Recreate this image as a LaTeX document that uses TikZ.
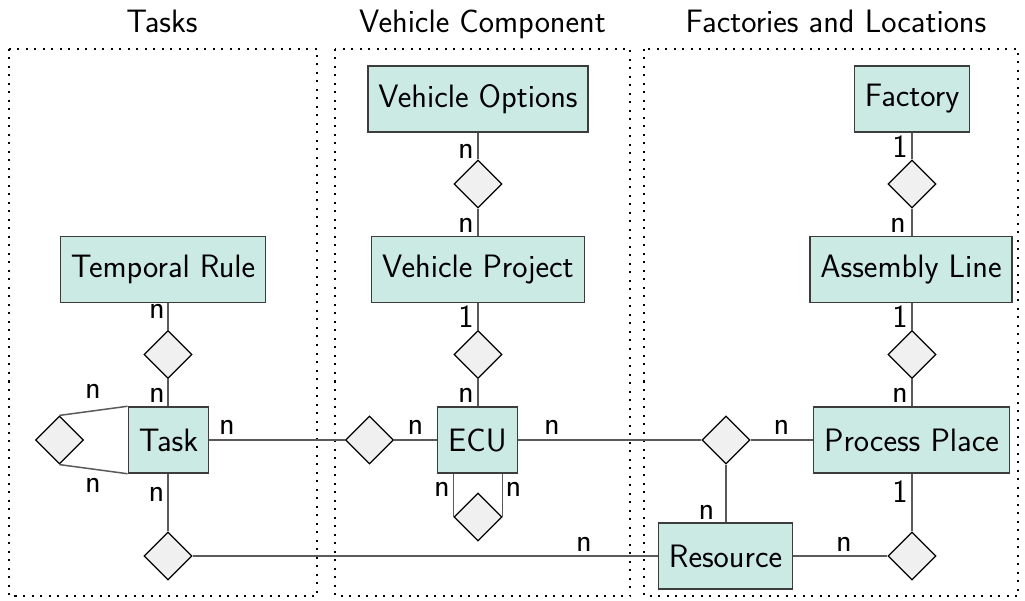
\documentclass[tikz,border=0pt]{standalone}
\usetikzlibrary{shapes.geometric}
\definecolor{entfill}{HTML}{CCEAE4}
\definecolor{entline}{HTML}{3C3C3C}
\definecolor{relfill}{HTML}{F0F0F0}
\definecolor{linkcol}{HTML}{5A5A5A}
\newcommand{\erfont}{\sffamily\fontsize{32.4}{38}\selectfont}
\tikzset{
  entity/.style={draw=entline, fill=entfill, line width=1.5pt, rectangle,
    minimum height=66pt, inner xsep=10.5pt, inner ysep=0pt, font=\erfont},
  relation/.style={draw=black, fill=relfill, line width=1.2pt, diamond,
    aspect=1, inner sep=0pt, minimum width=48pt, minimum height=48pt},
  link/.style={draw=linkcol, line width=1.5pt},
  card/.style={inner sep=0pt, font=\erfont},
  grouptitle/.style={inner sep=0pt, anchor=base, font=\erfont},
  groupframe/.style={draw=black, line width=2pt, dash pattern=on 2pt off 6.5pt}
}
\begin{document}
\begin{tikzpicture}[x=1pt, y=-1pt]
\useasboundingbox (0,0) rectangle (1025,601);

% group frames and their titles
\draw[groupframe] (9,49) rectangle (317,596);
\draw[groupframe] (335,49) rectangle (630,596);
\draw[groupframe] (644,49) rectangle (1018,596);
\node[grouptitle] (tTasks) at (162,33) {Tasks};
\node[grouptitle] (tVeh) at (482.5,33) {Vehicle Component};
\node[grouptitle] (tFac) at (836,33) {Factories and Locations};

% entities
\node[entity] (VO) at (478,99) {Vehicle Options};
\node[entity] (VP) at (478,269.5) {Vehicle Project};
\node[entity] (TR) at (163,269.5) {Temporal Rule};
\node[entity] (Task) at (168.5,440) {Task};
\node[entity] (ECU) at (477.5,440) {ECU};
\node[entity] (Fac) at (912,99) {Factory};
\node[entity] (AL) at (911,269.5) {Assembly Line};
\node[entity] (PP) at (911.5,440) {Process Place};
\node[entity] (Res) at (725.5,556) {Resource};

% relationships
\node[relation] (rVO) at (478,184) {};
\node[relation] (rVP) at (478,354.5) {};
\node[relation] (rTR) at (168,354.5) {};
\node[relation] (rTT) at (59.5,440) {};
\node[relation] (rTE) at (369.5,440) {};
\node[relation] (rEE) at (478,517) {};
\node[relation] (rEP) at (726,440) {};
\node[relation] (rTRes) at (168,556) {};
\node[relation] (rFA) at (912,184) {};
\node[relation] (rAP) at (912,354.5) {};
\node[relation] (rRP) at (912,556) {};

% connectors
\draw[link] (VO.south -| rVO) -- (rVO.north);
\draw[link] (rVO.south) -- (VP.north -| rVO);
\draw[link] (VP.south -| rVP) -- (rVP.north);
\draw[link] (rVP.south) -- (ECU.north -| rVP);
\draw[link] (TR.south -| rTR) -- (rTR.north);
\draw[link] (rTR.south) -- (Task.north -| rTR);
\draw[link] (Task.north west) -- (rTT.north);
\draw[link] (Task.south west) -- (rTT.south);
\draw[link] (Task.east) -- (rTE.west);
\draw[link] (rTE.east) -- (ECU.west);
\draw[link] (ECU.south -| rEE.west) -- (rEE.west);
\draw[link] (ECU.south -| rEE.east) -- (rEE.east);
\draw[link] (ECU.east) -- (rEP.west);
\draw[link] (rEP.east) -- (PP.west);
\draw[link] (rEP.south) -- (Res.north -| rEP);
\draw[link] (Task.south -| rTRes) -- (rTRes.north);
\draw[link] (rTRes.east) -- (Res.west);
\draw[link] (Res.east) -- (rRP.west);
\draw[link] (PP.south -| rRP) -- (rRP.north);
\draw[link] (Fac.south -| rFA) -- (rFA.north);
\draw[link] (rFA.south) -- (AL.north -| rFA);
\draw[link] (AL.south -| rAP) -- (rAP.north);
\draw[link] (rAP.south) -- (PP.north -| rAP);

% cardinalities
\node[card] (cVOa) at (466,151) {n};
\node[card] (cVOb) at (466,225.5) {n};
\node[card] (cVPa) at (466,317) {1};
\node[card] (cVPb) at (466,395) {n};
\node[card] (cTRa) at (157,311.5) {n};
\node[card] (cTRb) at (157,395) {n};
\node[card] (cTTa) at (93,391.5) {n};
\node[card] (cTTb) at (93,485) {n};
\node[card] (cTE) at (227,427.5) {n};
\node[card] (cET) at (415.5,427.5) {n};
\node[card] (cEP) at (552,427.5) {n};
\node[card] (cEEa) at (442,489) {n};
\node[card] (cEEb) at (513.5,489) {n};
\node[card] (cPE) at (781.5,427.5) {n};
\node[card] (cRE) at (706.5,512) {n};
\node[card] (cTRs) at (156.5,494) {n};
\node[card] (cRT) at (584,544.5) {n};
\node[card] (cRP) at (844,544.5) {n};
\node[card] (cPR) at (900,492) {1};
\node[card] (cFA) at (900,147) {1};
\node[card] (cAF) at (898,225.5) {n};
\node[card] (cAP) at (900,317) {1};
\node[card] (cPA) at (900,395) {n};
\end{tikzpicture}
\end{document}
